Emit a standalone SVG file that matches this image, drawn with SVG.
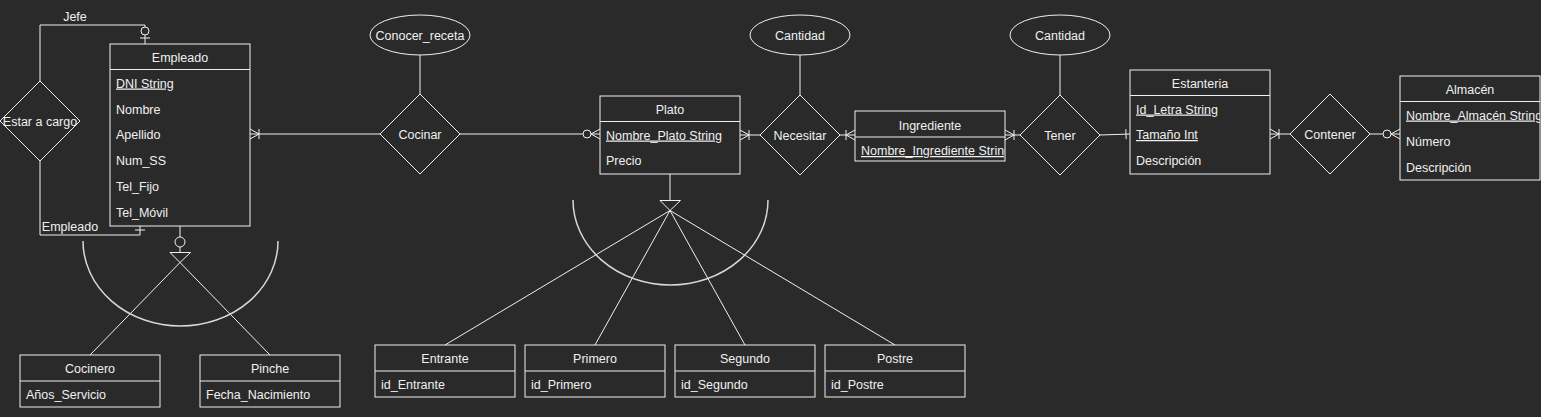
<svg xmlns="http://www.w3.org/2000/svg" width="1541" height="417" viewBox="0 0 1541 417">
<style>
text{font-family:"Liberation Sans",Arial,sans-serif;font-size:12.5px;fill:#f0f0f0}
.c{text-anchor:middle}
.u{text-decoration:underline}
.box{fill:#2a2a2a;stroke:#f0f0f0;stroke-width:1}
.ln{fill:none;stroke:#f0f0f0;stroke-width:1}
.arc{fill:none;stroke:#d8d8d8;stroke-width:1.5}
</style>
<defs>
<marker id="oneMany" markerUnits="userSpaceOnUse" markerWidth="1" markerHeight="1" refX="0" refY="0" orient="auto" overflow="visible">
<path d="M0,-5 L-9,0 L0,5 M-9,-5 V5" fill="none" stroke="#f0f0f0" stroke-width="1"/>
</marker>
<marker id="zeroMany" markerUnits="userSpaceOnUse" markerWidth="1" markerHeight="1" refX="0" refY="0" orient="auto" overflow="visible">
<path d="M0,-5 L-9,0 L0,5" fill="none" stroke="#f0f0f0" stroke-width="1"/>
<circle cx="-13" cy="0" r="4" fill="#2a2a2a" stroke="#f0f0f0" stroke-width="1"/>
</marker>
<marker id="zeroOne" markerUnits="userSpaceOnUse" markerWidth="1" markerHeight="1" refX="0" refY="0" orient="auto" overflow="visible">
<path d="M-6,-5 V5" fill="none" stroke="#f0f0f0" stroke-width="1"/>
<circle cx="-13" cy="0" r="4" fill="#2a2a2a" stroke="#f0f0f0" stroke-width="1"/>
</marker>
<marker id="one" markerUnits="userSpaceOnUse" markerWidth="1" markerHeight="1" refX="0" refY="0" orient="auto" overflow="visible">
<path d="M-4,-5 V5" fill="none" stroke="#f0f0f0" stroke-width="1"/>
</marker>
<clipPath id="clipIng"><rect x="855" y="137" width="150" height="24"/></clipPath>
<clipPath id="clipAlm"><rect x="1400" y="102" width="140" height="26"/></clipPath>
</defs>
<rect width="1541" height="417" fill="#2a2a2a"/>

<g id="connectors">
<path class="ln" d="M40,81 V25 H145 V44" marker-end="url(#zeroOne)"/>
<path class="ln" d="M40,161 V235 H140 V226" marker-end="url(#one)"/>
<path class="ln" d="M380,134 H250" marker-end="url(#oneMany)"/>
<path class="ln" d="M460,134 H600" marker-end="url(#zeroMany)"/>
<path class="ln" d="M420,55 V94"/>
<path class="ln" d="M760,135 H740" marker-end="url(#oneMany)"/>
<path class="ln" d="M840,135 H855" marker-end="url(#oneMany)"/>
<path class="ln" d="M800,55 V95"/>
<path class="ln" d="M1020,135 H1005" marker-end="url(#oneMany)"/>
<path class="ln" d="M1060,55 V95"/>
<path class="ln" d="M1100,135 L1130,134" marker-end="url(#one)"/>
<path class="ln" d="M1290,134 H1270" marker-end="url(#oneMany)"/>
<path class="ln" d="M1370,134 H1400" marker-end="url(#zeroMany)"/>
<path class="ln" d="M180,226 V237"/>
<circle cx="180" cy="242" r="5" fill="#2a2a2a" stroke="#f0f0f0"/>
<path class="ln" d="M180,247 V252"/>
<path class="ln" d="M170,252.5 H190.5 L180,262.5 Z"/>
<path class="ln" d="M180,262.5 L90,355 M180,262.5 L270,355"/>
<path class="arc" d="M83,241 A97.5,85 0 0,0 278,241"/>
<path class="ln" d="M670,174 V200.5"/>
<path class="ln" d="M660,200.5 H680.5 L670,210.5 Z"/>
<path class="ln" d="M670,210.5 L445,345 M670,210.5 L595,345 M670,210.5 L745,345 M670,210.5 L895,345"/>
<path class="arc" d="M573,200 A97.5,85 0 0,0 768,200"/>
</g>

<text x="75" y="20.5" class="c">Jefe</text>
<text x="70" y="230.5" class="c">Empleado</text>

<g id="estar_a_cargo">
<path class="box" d="M40,81 L80,121 L40,161 L0,121 Z"/>
<text x="40" y="125.5" class="c">Estar a cargo</text>
</g>

<g id="empleado">
<rect class="box" x="110" y="44" width="140" height="182"/>
<path class="ln" d="M110,69.5 H250"/>
<text x="180" y="61.5" class="c">Empleado</text>
<text x="116" y="87.5" class="u">DNI String</text>
<text x="116" y="113.5">Nombre</text>
<text x="116" y="139">Apellido</text>
<text x="116" y="165">Num_SS</text>
<text x="116" y="191">Tel_Fijo</text>
<text x="116" y="217">Tel_Móvil</text>
</g>

<g id="cocinero">
<rect class="box" x="20" y="355" width="140" height="52"/>
<path class="ln" d="M20,381 H160"/>
<text x="90" y="372.5" class="c">Cocinero</text>
<text x="26" y="398.5">Años_Servicio</text>
</g>

<g id="pinche">
<rect class="box" x="200" y="355" width="140" height="52"/>
<path class="ln" d="M200,381 H340"/>
<text x="270" y="372.5" class="c">Pinche</text>
<text x="206" y="398.5">Fecha_Nacimiento</text>
</g>

<g id="conocer_receta">
<ellipse class="box" cx="420" cy="35" rx="50" ry="20"/>
<text x="420" y="39.5" class="c">Conocer_receta</text>
</g>

<g id="cocinar">
<path class="box" d="M420,94 L460,134 L420,174 L380,134 Z"/>
<text x="420" y="138.5" class="c">Cocinar</text>
</g>

<g id="plato">
<rect class="box" x="600" y="96" width="140" height="78"/>
<path class="ln" d="M600,121.5 H740"/>
<text x="670" y="113.5" class="c">Plato</text>
<text x="606" y="139.5" class="u">Nombre_Plato String</text>
<text x="606" y="165">Precio</text>
</g>

<g id="cantidad1">
<ellipse class="box" cx="800" cy="35" rx="50" ry="20"/>
<text x="800" y="39.5" class="c">Cantidad</text>
</g>

<g id="necesitar">
<path class="box" d="M800,95 L840,135 L800,175 L760,135 Z"/>
<text x="800" y="139.5" class="c">Necesitar</text>
</g>

<g id="ingrediente">
<rect class="box" x="855" y="111" width="150" height="50"/>
<path class="ln" d="M855,137 H1005"/>
<text x="930" y="129.5" class="c">Ingrediente</text>
<text x="861" y="155" class="u" clip-path="url(#clipIng)">Nombre_Ingrediente String</text>
</g>

<g id="cantidad2">
<ellipse class="box" cx="1060" cy="35" rx="50" ry="20"/>
<text x="1060" y="39.5" class="c">Cantidad</text>
</g>

<g id="tener">
<path class="box" d="M1060,95 L1100,135 L1060,175 L1020,135 Z"/>
<text x="1060" y="139.5" class="c">Tener</text>
</g>

<g id="estanteria">
<rect class="box" x="1130" y="70" width="140" height="104"/>
<path class="ln" d="M1130,95.5 H1270"/>
<text x="1200" y="87.5" class="c">Estanteria</text>
<text x="1136" y="113.5" class="u">Id_Letra String</text>
<text x="1136" y="139" class="u">Tamaño Int</text>
<text x="1136" y="165">Descripción</text>
</g>

<g id="contener">
<path class="box" d="M1330,94 L1370,134 L1330,174 L1290,134 Z"/>
<text x="1330" y="138.5" class="c">Contener</text>
</g>

<g id="almacen">
<rect class="box" x="1400" y="76" width="140" height="104"/>
<path class="ln" d="M1400,101.5 H1540"/>
<text x="1470" y="93.5" class="c">Almacén</text>
<text x="1406" y="119.5" class="u" clip-path="url(#clipAlm)">Nombre_Almacén String</text>
<text x="1406" y="145.5">Número</text>
<text x="1406" y="171.5">Descripción</text>
</g>

<g id="entrante">
<rect class="box" x="375" y="345" width="140" height="52"/>
<path class="ln" d="M375,371 H515"/>
<text x="445" y="362.5" class="c">Entrante</text>
<text x="381" y="388.5">id_Entrante</text>
</g>

<g id="primero">
<rect class="box" x="525" y="345" width="140" height="52"/>
<path class="ln" d="M525,371 H665"/>
<text x="595" y="362.5" class="c">Primero</text>
<text x="531" y="388.5">id_Primero</text>
</g>

<g id="segundo">
<rect class="box" x="675" y="345" width="140" height="52"/>
<path class="ln" d="M675,371 H815"/>
<text x="745" y="362.5" class="c">Segundo</text>
<text x="681" y="388.5">id_Segundo</text>
</g>

<g id="postre">
<rect class="box" x="825" y="345" width="140" height="52"/>
<path class="ln" d="M825,371 H965"/>
<text x="895" y="362.5" class="c">Postre</text>
<text x="831" y="388.5">id_Postre</text>
</g>
</svg>
